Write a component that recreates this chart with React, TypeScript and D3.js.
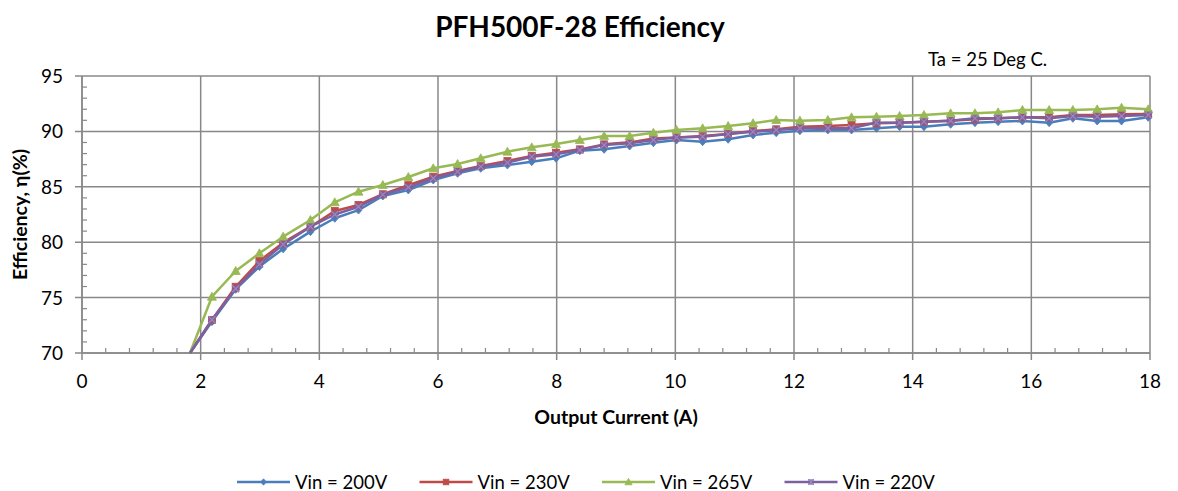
import React, { useEffect, useRef } from 'react';
import * as d3 from 'd3';

// Output current (A) of each measurement
const current = [
  1.82, 2.19, 2.59, 2.99, 3.39, 3.85, 4.26, 4.66, 5.07, 5.5,
  5.92, 6.33, 6.72, 7.17, 7.58, 7.99, 8.39, 8.8, 9.23, 9.63,
  10.02, 10.46, 10.89, 11.31, 11.7, 12.1, 12.57, 12.97, 13.39, 13.78,
  14.19, 14.64, 15.05, 15.44, 15.85, 16.3, 16.7, 17.11, 17.52, 17.97,
];

const vin200 = [
  70, 72.83, 75.75, 77.8, 79.4, 80.95, 82.16, 82.9, 84.17, 84.71,
  85.61, 86.22, 86.67, 86.97, 87.27, 87.57, 88.26, 88.38, 88.68, 88.98,
  89.22, 89.07, 89.29, 89.68, 89.88, 90.06, 90.13, 90.13, 90.28, 90.42,
  90.42, 90.64, 90.79, 90.88, 90.94, 90.79, 91.18, 90.94, 90.94, 91.27,
];

const vin230 = [
  70, 72.98, 75.98, 78.3, 79.96, 81.4, 82.82, 83.36, 84.33, 85.15,
  85.91, 86.43, 86.88, 87.33, 87.78, 88.08, 88.38, 88.83, 89.01, 89.37,
  89.46, 89.58, 89.76, 90.03, 90.19, 90.42, 90.49, 90.58, 90.73, 90.79,
  90.88, 90.97, 91.09, 91.18, 91.27, 91.27, 91.48, 91.48, 91.54, 91.57,
];

const vin265 = [
  70, 75.08, 77.4, 79.0, 80.5, 82.0, 83.6, 84.56, 85.16, 85.88,
  86.67, 87.06, 87.57, 88.17, 88.56, 88.86, 89.22, 89.58, 89.58, 89.88,
  90.13, 90.28, 90.49, 90.73, 91.03, 90.97, 91.03, 91.27, 91.33, 91.39,
  91.48, 91.63, 91.63, 91.72, 91.93, 91.93, 91.93, 91.99, 92.14, 91.99,
];

const vin220 = [
  70, 73.0, 75.8, 78.0, 79.8, 81.4, 82.5, 83.2, 84.3, 84.95,
  85.77, 86.37, 86.82, 87.18, 87.72, 87.93, 88.32, 88.77, 88.92, 89.22,
  89.46, 89.52, 89.76, 89.97, 90.13, 90.28, 90.28, 90.28, 90.79, 90.79,
  90.88, 90.97, 91.18, 91.18, 91.27, 91.18, 91.39, 91.33, 91.39, 91.48,
];

const seriesNames = ['Vin = 200V', 'Vin = 230V', 'Vin = 265V', 'Vin = 220V'];
const seriesColors = ['#4a7ebb', '#be4b48', '#98b954', '#7d60a0'];
const seriesMarkers = ['diamond', 'square', 'triangle', 'cross'];
const seriesValues = [vin200, vin230, vin265, vin220];

const xTicks = [0, 2, 4, 6, 8, 10, 12, 14, 16, 18];
const yTicks = [70, 75, 80, 85, 90, 95];

const FONT = 'Lato, "Open Sans", sans-serif';

function drawMarker(g: any, kind: string, cx: number, cy: number, color: string, s = 1) {
  if (kind === 'diamond') {
    g.append('path')
      .attr('d', `M${cx},${cy - 4 * s}L${cx + 3.5 * s},${cy}L${cx},${cy + 4 * s}L${cx - 3.5 * s},${cy}Z`)
      .attr('fill', color).attr('stroke', color).attr('stroke-width', 0.8);
  } else if (kind === 'square') {
    g.append('rect')
      .attr('x', cx - 3.5 * s).attr('y', cy - 3.5 * s)
      .attr('width', 7 * s).attr('height', 7 * s)
      .attr('fill', color).attr('stroke', color).attr('stroke-width', 0.8);
  } else if (kind === 'triangle') {
    g.append('path')
      .attr('d', `M${cx},${cy - 4.5 * s}L${cx + 4.5 * s},${cy + 3.5 * s}L${cx - 4.5 * s},${cy + 3.5 * s}Z`)
      .attr('fill', color).attr('stroke', color).attr('stroke-width', 0.8);
  } else {
    const r = 3.5 * s;
    g.append('rect')
      .attr('x', cx - r).attr('y', cy - r)
      .attr('width', 2 * r).attr('height', 2 * r)
      .attr('fill', color).attr('opacity', 0.75);
    g.append('path')
      .attr('d', `M${cx - r},${cy - r}L${cx + r},${cy + r}M${cx + r},${cy - r}L${cx - r},${cy + r}`)
      .attr('stroke', '#9b86c0').attr('stroke-width', 1.2);
  }
}

export default function App() {
  const svgRef = useRef<SVGSVGElement>(null);

  useEffect(() => {
    if (!svgRef.current) return;
    const svg = d3.select(svgRef.current);
    svg.selectAll('*').remove();

    const W = 1178;
    const H = 491;
    const margin = { top: 76, right: 28, bottom: 138, left: 82 };
    const width = W - margin.left - margin.right;
    const height = H - margin.top - margin.bottom;

    const x = d3.scaleLinear().domain([0, 18]).range([0, width]);
    const y = d3.scaleLinear().domain([70, 95]).range([height, 0]);

    svg.append('rect').attr('width', W).attr('height', H).attr('fill', '#ffffff');

    // Title
    svg.append('text')
      .attr('x', 580).attr('y', 37)
      .attr('text-anchor', 'middle')
      .attr('font-family', FONT)
      .attr('font-weight', 'bold')
      .attr('font-size', 28)
      .attr('fill', '#000')
      .text('PFH500F-28 Efficiency');

    svg.append('text')
      .attr('x', 928).attr('y', 66)
      .attr('font-family', FONT)
      .attr('font-size', 18.5)
      .attr('fill', '#000')
      .text('Ta = 25 Deg C.');

    const g = svg.append('g').attr('transform', `translate(${margin.left},${margin.top})`);

    const gridColor = '#888888';

    // Horizontal gridlines + y major ticks
    g.append('g')
      .selectAll('line')
      .data(yTicks)
      .join('line')
      .attr('x1', -7).attr('x2', width)
      .attr('y1', d => y(d)).attr('y2', d => y(d))
      .attr('stroke', gridColor).attr('stroke-width', 1.5);

    // Vertical gridlines + x major ticks
    g.append('g')
      .selectAll('line')
      .data(xTicks)
      .join('line')
      .attr('x1', d => x(d)).attr('x2', d => x(d))
      .attr('y1', 0).attr('y2', height + 7)
      .attr('stroke', gridColor).attr('stroke-width', 1.5);

    // Minor ticks (inside)
    const xMinor = d3.range(0, 18.001, 0.4).filter(v => Math.abs(v / 2 - Math.round(v / 2)) > 0.01);
    g.append('g')
      .selectAll('line')
      .data(xMinor)
      .join('line')
      .attr('x1', d => x(d)).attr('x2', d => x(d))
      .attr('y1', height - 5).attr('y2', height)
      .attr('stroke', gridColor).attr('stroke-width', 1.2);

    const yMinor = d3.range(70, 95.001, 1).filter(v => v % 5 !== 0);
    g.append('g')
      .selectAll('line')
      .data(yMinor)
      .join('line')
      .attr('x1', 0).attr('x2', 5)
      .attr('y1', d => y(d)).attr('y2', d => y(d))
      .attr('stroke', gridColor).attr('stroke-width', 1.2);

    // Axis lines
    g.append('line')
      .attr('x1', 0).attr('x2', 0).attr('y1', 0).attr('y2', height)
      .attr('stroke', gridColor).attr('stroke-width', 1.5);
    g.append('line')
      .attr('x1', 0).attr('x2', width).attr('y1', height).attr('y2', height)
      .attr('stroke', gridColor).attr('stroke-width', 1.5);

    // Tick labels
    g.append('g')
      .selectAll('text')
      .data(yTicks)
      .join('text')
      .attr('x', -19).attr('y', d => y(d) + 7)
      .attr('text-anchor', 'end')
      .attr('font-family', FONT)
      .attr('font-size', 19)
      .attr('fill', '#000')
      .text(d => d);

    g.append('g')
      .selectAll('text')
      .data(xTicks)
      .join('text')
      .attr('x', d => x(d)).attr('y', height + 35)
      .attr('text-anchor', 'middle')
      .attr('font-family', FONT)
      .attr('font-size', 19)
      .attr('fill', '#000')
      .text(d => d);

    // Axis titles
    svg.append('text')
      .attr('transform', `translate(27,${margin.top + height / 2}) rotate(-90)`)
      .attr('text-anchor', 'middle')
      .attr('font-family', FONT)
      .attr('font-weight', 'bold')
      .attr('font-size', 19.5)
      .attr('fill', '#000')
      .text('Efficiency, η(%)');

    svg.append('text')
      .attr('x', margin.left + width / 2).attr('y', 424)
      .attr('text-anchor', 'middle')
      .attr('font-family', FONT)
      .attr('font-weight', 'bold')
      .attr('font-size', 19.5)
      .attr('fill', '#000')
      .text('Output Current (A)');

    // Series
    const line = d3.line<number>()
      .x((_, i) => x(current[i]))
      .y(d => y(d));

    seriesValues.forEach((vals, si) => {
      const sg = g.append('g');
      sg.append('path')
        .datum(vals)
        .attr('d', line)
        .attr('fill', 'none')
        .attr('stroke', seriesColors[si])
        .attr('stroke-width', 2.5)
        .attr('stroke-linejoin', 'round');
      vals.forEach((v, i) => {
        if (v <= 70) return;
        drawMarker(sg, seriesMarkers[si], x(current[i]), y(v), seriesColors[si]);
      });
    });

    // Legend
    const legend = svg.append('g').attr('transform', 'translate(237,482)');
    seriesNames.forEach((name, i) => {
      const lg = legend.append('g').attr('transform', `translate(${i * 182.5},0)`);
      lg.append('line')
        .attr('x1', 0).attr('x2', 53).attr('y1', 0).attr('y2', 0)
        .attr('stroke', seriesColors[i]).attr('stroke-width', 2.5);
      drawMarker(lg, seriesMarkers[i], 26.5, 0, seriesColors[i], 0.8);
      lg.append('text')
        .attr('x', 58).attr('y', 6.5)
        .attr('font-family', FONT)
        .attr('font-size', 18.5)
        .attr('fill', '#000')
        .text(name);
    });
  }, []);

  return (
    <svg
      ref={svgRef}
      width={1178}
      height={491}
      style={{ position: 'absolute', left: 0, top: 0, display: 'block' }}
    />
  );
}
